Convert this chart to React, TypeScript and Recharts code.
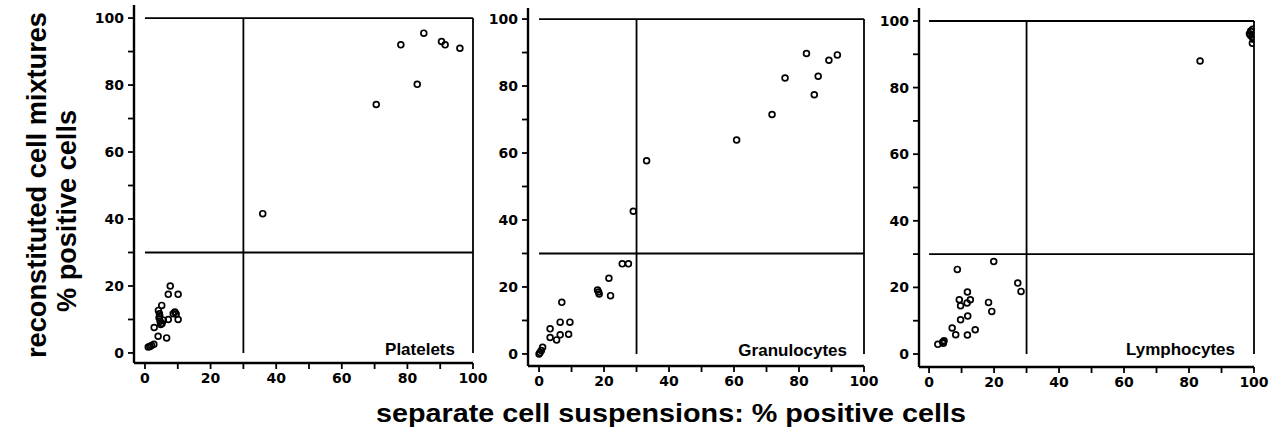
import React from 'react';
import { ScatterChart, Scatter, XAxis, YAxis, ReferenceLine } from 'recharts';

// axis ticks (labels only every 20)
const xTicks = [0, 10, 20, 30, 40, 50, 60, 70, 80, 90, 100];
const yTicks = [0, 10, 20, 30, 40, 50, 60, 70, 80, 90, 100];
const CUTOFF = 30;
const MAX = 100;

// points: [separate suspensions %, reconstituted mixture %]
const platelets = [
  [1.0, 1.8], [1.5, 1.9], [2.0, 2.2], [2.7, 2.6], [2.8, 7.6], [4.0, 5.0], [6.6, 4.5],
  [4.1, 12.7], [4.4, 11.7], [5.1, 14.2], [4.3, 10.5], [4.6, 9.5], [4.8, 8.5], [5.2, 8.8],
  [5.6, 9.8], [4.5, 11.0], [7.1, 10.0], [7.7, 20.0], [7.1, 17.5], [10.1, 17.5], [8.6, 11.7],
  [9.1, 12.2], [9.5, 11.6], [10.1, 10.0], [35.9, 41.6], [70.5, 74.2], [78.0, 92.0],
  [83.0, 80.2], [85.0, 95.5], [90.4, 93.0], [91.5, 92.0], [96.0, 91.0],
];

const granulocytes = [
  [0, 0], [0.3, 0.4], [0.7, 1.0], [1.1, 2.0], [3.4, 7.5], [3.4, 4.9], [5.4, 4.2], [6.5, 5.7],
  [6.5, 9.5], [7.0, 15.4], [9.1, 5.9], [9.5, 9.5], [18.0, 19.1], [18.3, 18.5], [18.5, 17.9],
  [21.5, 22.6], [22.0, 17.4], [25.6, 26.9], [27.5, 26.9], [29.0, 42.6], [33.1, 57.7],
  [60.8, 63.9], [71.7, 71.5], [75.7, 82.4], [82.3, 89.7], [84.7, 77.4], [85.9, 82.9],
  [89.2, 87.7], [91.8, 89.3],
];

const lymphocytes = [
  [2.7, 2.9], [4.2, 3.6], [4.6, 4.0], [4.4, 3.2], [7.1, 7.8], [8.2, 5.8], [8.7, 25.4],
  [9.3, 16.3], [9.7, 14.5], [9.7, 10.3], [11.8, 18.6], [11.7, 15.3], [12.7, 16.3],
  [11.9, 11.4], [11.8, 5.7], [14.2, 7.3], [18.3, 15.5], [19.3, 12.8], [19.9, 27.8],
  [27.3, 21.3], [28.3, 18.8], [83.4, 88.0], [98.6, 96.2], [99.2, 96.8], [99.6, 97.5],
  [98.9, 95.7], [99.4, 95.2], [99.5, 93.3], [99.8, 94.5], [99.0, 97.0],
];

const toPoints = (arr: number[][]) => arr.map(([x, y]) => ({ x, y }));

const panels = [
  { name: 'Platelets', data: platelets, left: 134, right: 473, top: 5, bottom: 363, xMin: -3.35, yMin: -3, yMax: 103.9, labelX: 455, labelY: 355 },
  { name: 'Granulocytes', data: granulocytes, left: 528, right: 864, top: 8, bottom: 366, xMin: -3.4, yMin: -3.6, yMax: 103.3, labelX: 847, labelY: 356 },
  { name: 'Lymphocytes', data: lymphocytes, left: 919, right: 1254, top: 8, bottom: 367, xMin: -3.1, yMin: -3.9, yMax: 103.9, labelX: 1235, labelY: 355 },
];

const tickFont = { fontFamily: 'DejaVu Sans', fontSize: 14, fontWeight: 'bold', fill: '#000' };
const fmt = (v: number) => (v % 20 === 0 ? String(v) : '');

const Ring = (props: any) => (
  <circle cx={props.cx} cy={props.cy} r={2.9} fill="none" stroke="#000" strokeWidth={1.7} />
);

const lineProps = { stroke: '#000', strokeWidth: 1.8, ifOverflow: 'visible' as const };

const Panel = ({ p }: { p: (typeof panels)[number] }) => {
  const plotW = p.right - p.left;
  const plotH = p.bottom - p.top;
  return (
    <div style={{ position: 'absolute', left: p.left - 40, top: p.top - 5 }}>
      <ScatterChart width={40 + plotW + 20} height={5 + plotH + 30} margin={{ top: 5, right: 20, bottom: 0, left: 0 }}>
        <XAxis
          type="number"
          dataKey="x"
          domain={[p.xMin, MAX]}
          ticks={xTicks}
          interval={0}
          tickFormatter={fmt}
          allowDataOverflow
          height={30}
          tick={tickFont}
          tickSize={6}
          tickMargin={4}
          axisLine={{ stroke: '#000', strokeWidth: 2.4 }}
          tickLine={{ stroke: '#000', strokeWidth: 1.8 }}
        />
        <YAxis
          type="number"
          dataKey="y"
          domain={[p.yMin, p.yMax]}
          ticks={yTicks}
          interval={0}
          tickFormatter={fmt}
          allowDataOverflow
          width={40}
          tick={tickFont}
          tickSize={6}
          tickMargin={4}
          axisLine={{ stroke: '#000', strokeWidth: 2.4 }}
          tickLine={{ stroke: '#000', strokeWidth: 1.8 }}
        />
        <ReferenceLine segment={[{ x: 0, y: MAX }, { x: MAX, y: MAX }]} {...lineProps} />
        <ReferenceLine segment={[{ x: 0, y: CUTOFF }, { x: MAX, y: CUTOFF }]} {...lineProps} />
        <ReferenceLine segment={[{ x: CUTOFF, y: 0 }, { x: CUTOFF, y: MAX }]} {...lineProps} />
        <ReferenceLine segment={[{ x: MAX, y: 0 }, { x: MAX, y: MAX }]} {...lineProps} />
        <Scatter data={toPoints(p.data)} shape={Ring} isAnimationActive={false} />
      </ScatterChart>
    </div>
  );
};

export default function App() {
  const titleFont = { fontFamily: '"Liberation Sans", Arial, sans-serif', fontWeight: 'bold' as const, fill: '#000' };
  return (
    <div style={{ position: 'absolute', left: 0, top: 0, width: 1277, height: 434, background: '#fff', overflow: 'hidden' }}>
      {panels.map((p) => (
        <Panel key={p.name} p={p} />
      ))}
      <svg width={1277} height={434} style={{ position: 'absolute', left: 0, top: 0, pointerEvents: 'none' }}>
        <text transform="translate(46,185) rotate(-90)" textAnchor="middle" fontSize={27} textLength={346} lengthAdjust="spacingAndGlyphs" {...titleFont}>
          reconstituted cell mixtures
        </text>
        <text transform="translate(76,211) rotate(-90)" textAnchor="middle" fontSize={27} textLength={202} lengthAdjust="spacingAndGlyphs" {...titleFont}>
          % positive cells
        </text>
        <text x={671} y={422} textAnchor="middle" fontSize={25} textLength={590} lengthAdjust="spacingAndGlyphs" {...titleFont}>
          separate cell suspensions: % positive cells
        </text>
        {panels.map((p) => (
          <text key={p.name} x={p.labelX} y={p.labelY} textAnchor="end" fontSize={17} {...titleFont}>
            {p.name}
          </text>
        ))}
      </svg>
    </div>
  );
}
